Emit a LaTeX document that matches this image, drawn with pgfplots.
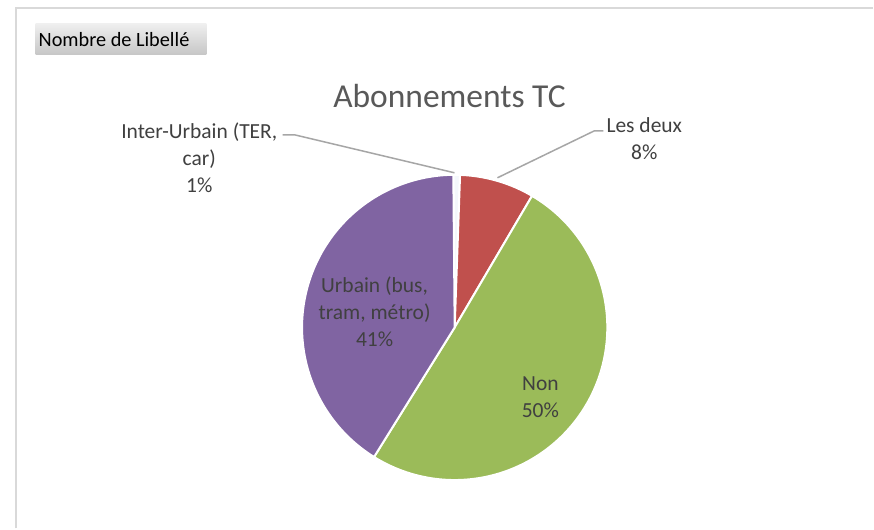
\documentclass[border=0pt]{standalone}
\usepackage{pgfplots}
\usepackage{pgfplotstable}
\pgfplotsset{compat=1.18}
\usepackage{fontspec}
\setmainfont{Carlito}
\definecolor{cBlue}{HTML}{4F81BD}
\definecolor{cRed}{HTML}{C0504D}
\definecolor{cGreen}{HTML}{9BBB59}
\definecolor{cPurple}{HTML}{8064A2}
\definecolor{lblgray}{HTML}{404040}
\definecolor{ttlgray}{HTML}{595959}
\definecolor{leadgray}{HTML}{A6A6A6}
\definecolor{framegray}{HTML}{D9D9D9}
\pgfplotstableread{
label value
InterUrbain 0.7
LesDeux 7.9
Non 50.4
Urbain 41.0
}\pietable
\begin{document}
\begin{tikzpicture}
\pgfplotstablegetelem{0}{value}\of\pietable\edef\vA{\pgfplotsretval}
\pgfplotstablegetelem{1}{value}\of\pietable\edef\vB{\pgfplotsretval}
\pgfplotstablegetelem{2}{value}\of\pietable\edef\vC{\pgfplotsretval}
\pgfplotstablegetelem{3}{value}\of\pietable\edef\vD{\pgfplotsretval}
\pgfmathsetmacro\tA{-0.5}
\pgfmathsetmacro\tB{\tA+3.6*\vA}
\pgfmathsetmacro\tC{\tB+3.6*\vB}
\pgfmathsetmacro\tD{\tC+3.6*\vC}
\pgfmathsetmacro\tE{\tD+3.6*\vD}
\begin{axis}[
  scale only axis, width=874bp, height=529bp,
  xmin=0, xmax=874, ymin=0, ymax=529,
  hide axis, clip=false,
  trig format plots=deg,
]
\fill[white] (0,0) rectangle (874,529);
\draw[line width=2bp, framegray] (16,0) -- (16,521) -- (874,521);
% pivot button
\shade[top color=gray!12, bottom color=gray!45] (35.7,505.7) rectangle (206.7,474);
\node[anchor=west, inner sep=0pt, font=\fontsize{20.3bp}{24bp}\selectfont, text=black] at (38.5,489) {Nombre de Libellé};
% title
\node[font=\fontsize{33.5bp}{40bp}\selectfont, text=ttlgray] at (450,433) {Abonnements TC};
% slices
\addplot[draw=white, line width=2bp, line join=round, fill=cBlue!6, domain=\tA:\tB, samples=10, variable=\t]
  ({455.2+152.8*sin(\t)},{201.2+152.8*cos(\t)}) -- (455.2,201.2) -- cycle;
\addplot[draw=white, line width=2bp, line join=round, fill=cRed, domain=\tB:\tC, samples=40, variable=\t]
  ({455.2+152.8*sin(\t)},{201.2+152.8*cos(\t)}) -- (455.2,201.2) -- cycle;
\addplot[draw=white, line width=2bp, line join=round, fill=cGreen, domain=\tC:\tD, samples=120, variable=\t]
  ({455.2+152.8*sin(\t)},{201.2+152.8*cos(\t)}) -- (455.2,201.2) -- cycle;
\addplot[draw=white, line width=2bp, line join=round, fill=cPurple, domain=\tD:\tE, samples=100, variable=\t]
  ({455.2+152.8*sin(\t)},{201.2+152.8*cos(\t)}) -- (455.2,201.2) -- cycle;
% leader lines
\draw[leadgray, line width=1.5bp] (283,394) -- (295,394) -- (455,356);
\draw[leadgray, line width=1.5bp] (498,351) -- (595,398) -- (604,398);
% labels
\node[align=center, font=\fontsize{21.5bp}{27bp}\selectfont, text=lblgray] at (199.5,371) {Inter-Urbain (TER,\\car)\\1\%};
\node[align=center, font=\fontsize{21.5bp}{27bp}\selectfont, text=lblgray] at (645,390) {Les deux\\8\%};
\node[align=center, font=\fontsize{21.5bp}{27bp}\selectfont, text=lblgray] at (375,217) {Urbain (bus,\\tram, métro)\\41\%};
\node[align=center, font=\fontsize{21.5bp}{27bp}\selectfont, text=lblgray] at (541,131) {Non\\50\%};
\end{axis}
\end{tikzpicture}
\end{document}
